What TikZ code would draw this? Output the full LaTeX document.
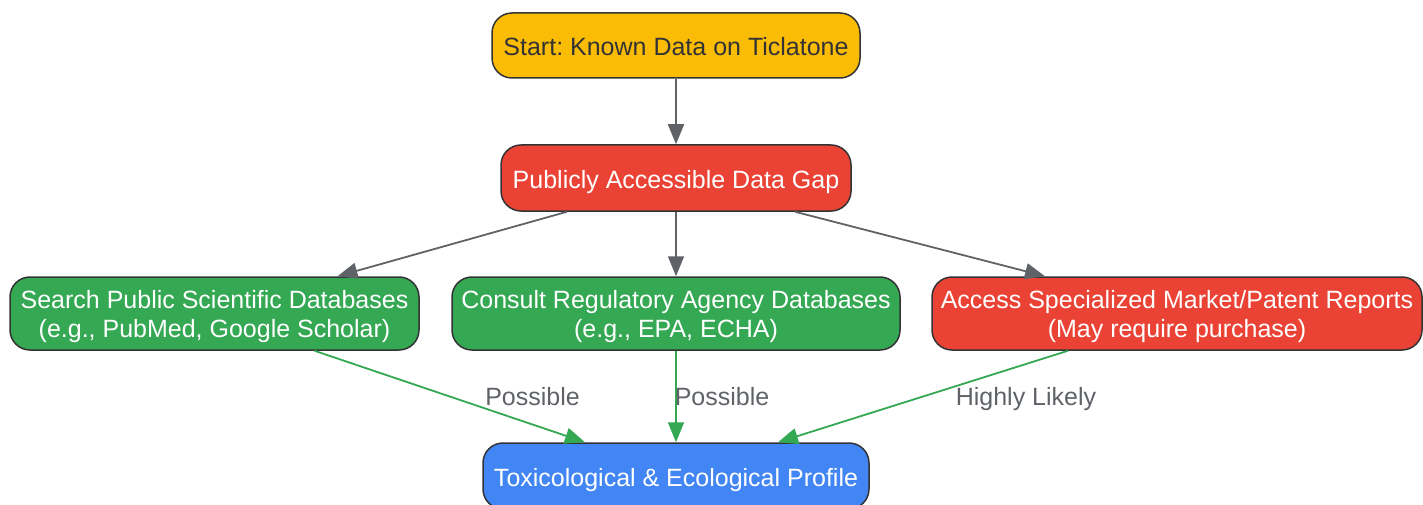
\documentclass[tikz,border=0pt]{standalone}
\usepackage{fontspec}
\setmainfont{Liberation Sans}
\frenchspacing
\usetikzlibrary{arrows.meta,calc}
\definecolor{gyellow}{HTML}{FBBC05}
\definecolor{gred}{HTML}{EA4335}
\definecolor{ggreen}{HTML}{34A853}
\definecolor{gblue}{HTML}{4285F4}
\definecolor{bord}{HTML}{333333}
\definecolor{edgegray}{HTML}{5F6368}
\definecolor{labgray}{HTML}{5F6368}
\begin{document}
\begin{tikzpicture}[x=1pt,y=-1pt,
  box/.style={draw=bord,line width=1.5pt,rounded corners=20pt,align=center,inner sep=0pt,
    font=\fontsize{25}{29}\selectfont\frenchspacing,text=white,text height=20.5pt,text depth=0pt},
  twobox/.style={box,text height=48pt,text depth=0pt,minimum height=73pt},
  grayarrow/.style={draw=edgegray,line width=1.8pt,-{Triangle[length=20pt,width=16pt]}},
  greenarrow/.style={draw=ggreen,line width=1.8pt,-{Triangle[length=20pt,width=16pt]}},
  elabel/.style={font=\fontsize{25}{29}\selectfont,text=labgray,anchor=base,inner sep=0pt}]
\useasboundingbox (0,0) rectangle (1423,505);
\node[box,fill=gyellow,text=bord,minimum width=368pt,minimum height=65pt] (start) at (676,45.5) {Start: Known Data on Ticlatone};
\node[box,fill=gred,minimum width=350pt,minimum height=66pt] (gap) at (676,178) {Publicly Accessible Data Gap};
\node[twobox,fill=ggreen,minimum width=409pt] (search) at (214.5,313.5) {Search Public Scientific Databases\\(e.g., PubMed, Google Scholar)};
\node[twobox,fill=ggreen,minimum width=448pt] (consult) at (676,313.5) {Consult Regulatory Agency Databases\\(e.g., EPA, ECHA)};
\node[twobox,fill=gred,minimum width=490pt] (access) at (1177,313.5) {Access Specialized Market/Patent Reports\\(May require purchase)};
\node[box,fill=gblue,minimum width=386pt,minimum height=66pt] (profile) at (676,476) {Toxicological \& Ecological Profile};
\draw[grayarrow] (start) -- (gap);
\draw[grayarrow] ([xshift=-109pt]gap.south) -- ([xshift=123pt]search.north);
\draw[grayarrow] (gap) -- (consult);
\draw[grayarrow] ([xshift=119pt]gap.south) -- ([xshift=-132pt]access.north);
\draw[greenarrow] ([xshift=100pt]search.south) -- ([xshift=-91pt]profile.north);
\draw[greenarrow] (consult) -- (profile);
\draw[greenarrow] ([xshift=-109pt]access.south) -- ([xshift=102pt]profile.north);
\node[elabel] (l1) at (532.5,405) {Possible};
\node[elabel] (l2) at (722,405) {Possible};
\node[elabel] (l3) at (1026,405) {Highly Likely};
\end{tikzpicture}
\end{document}
